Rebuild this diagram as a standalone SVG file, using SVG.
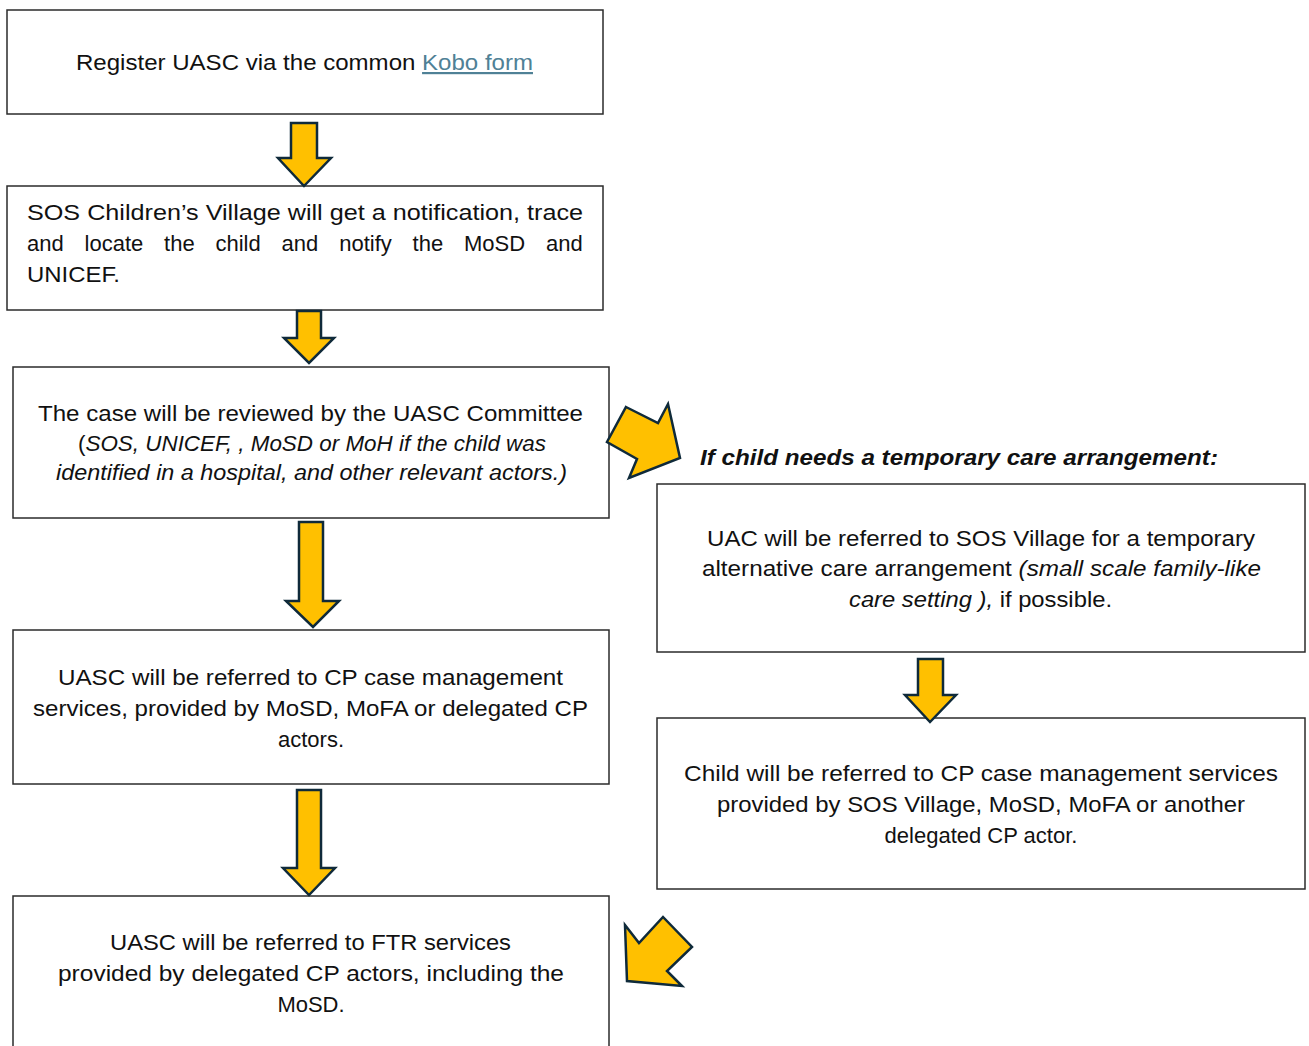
<svg xmlns="http://www.w3.org/2000/svg" width="1309" height="1046" viewBox="0 0 1309 1046">
<style>
.box{fill:#fff;stroke:#2b2b2b;stroke-width:1.5}
.arr{fill:#FFC000;stroke:#0f2a3a;stroke-width:2.5;stroke-linejoin:miter}
text{font-family:"Liberation Sans",Arial,sans-serif;font-size:22px;fill:#111}
.c{text-anchor:middle}
.i{font-style:italic}
.link{fill:#4f8196;text-decoration:underline}
.lbl{font-weight:bold;font-style:italic}
</style>
<rect width="1309" height="1046" fill="#fff"/>
<g id="n1">
<rect class="box" x="7" y="10" width="596" height="104"/>
<text x="76" y="70" textLength="457" lengthAdjust="spacingAndGlyphs">Register UASC via the common <tspan class="link">Kobo form</tspan></text>
</g>
<g id="n2">
<rect class="box" x="7" y="186" width="596" height="124"/>
<text x="27" y="220" textLength="556" lengthAdjust="spacingAndGlyphs">SOS Children’s Village will get a notification, trace</text>
<text y="251"><tspan x="27">and</tspan> <tspan x="84.6">locate</tspan> <tspan x="164.1">the</tspan> <tspan x="215.5">child</tspan> <tspan x="281.6">and</tspan> <tspan x="339.2">notify</tspan> <tspan x="412.6">the</tspan> <tspan x="464">MoSD</tspan> <tspan x="546">and</tspan></text>
<text x="27" y="282" textLength="93" lengthAdjust="spacingAndGlyphs">UNICEF.</text>
</g>
<g id="n3">
<rect class="box" x="13" y="367" width="596" height="151"/>
<text x="38" y="421" textLength="545" lengthAdjust="spacingAndGlyphs">The case will be reviewed by the UASC Committee</text>
<text x="78" y="451" textLength="468" lengthAdjust="spacingAndGlyphs">(<tspan class="i">SOS, UNICEF, , MoSD or MoH if the child was</tspan></text>
<text x="56" y="480" class="i" textLength="511" lengthAdjust="spacingAndGlyphs">identified in a hospital, and other relevant actors.)</text>
</g>
<g id="label">
<text x="700" y="465" class="lbl" textLength="518" lengthAdjust="spacingAndGlyphs">If child needs a temporary care arrangement:</text>
</g>
<g id="n6">
<rect class="box" x="657" y="484" width="648" height="168"/>
<text x="707" y="546" textLength="548" lengthAdjust="spacingAndGlyphs">UAC will be referred to SOS Village for a temporary</text>
<text x="702" y="576" textLength="559" lengthAdjust="spacingAndGlyphs">alternative care arrangement <tspan class="i">(small scale family-like</tspan></text>
<text x="849" y="607" textLength="263" lengthAdjust="spacingAndGlyphs"><tspan class="i">care setting ),</tspan> if possible.</text>
</g>
<g id="n4">
<rect class="box" x="13" y="630" width="596" height="154"/>
<text x="58" y="685" textLength="505" lengthAdjust="spacingAndGlyphs">UASC will be referred to CP case management</text>
<text x="33" y="716" textLength="555" lengthAdjust="spacingAndGlyphs">services, provided by MoSD, MoFA or delegated CP</text>
<text x="311" y="747" class="c">actors.</text>
</g>
<g id="n7">
<rect class="box" x="657" y="718" width="648" height="171"/>
<text x="684" y="781" textLength="594" lengthAdjust="spacingAndGlyphs">Child will be referred to CP case management services</text>
<text x="717" y="812" textLength="528" lengthAdjust="spacingAndGlyphs">provided by SOS Village, MoSD, MoFA or another</text>
<text x="981" y="843" class="c">delegated CP actor.</text>
</g>
<g id="n5">
<rect class="box" x="13" y="896" width="596" height="160"/>
<text x="110" y="950" textLength="401" lengthAdjust="spacingAndGlyphs">UASC will be referred to FTR services</text>
<text x="58" y="981" textLength="506" lengthAdjust="spacingAndGlyphs">provided by delegated CP actors, including the</text>
<text x="311" y="1012" class="c">MoSD.</text>
</g>
<g id="connectors">
<polygon class="arr" points="291,123 317,123 317,158 331,158 304,186 278,158 291,158"/>
<polygon class="arr" points="297,311 321,311 321,338 334,338 309,363 284,338 297,338"/>
<polygon class="arr" points="299,522 323,522 323,601 339,601 313,627 286,601 299,601"/>
<polygon class="arr" points="297,790 321,790 321,868 335,868 309,895 283,868 297,868"/>
<polygon class="arr" points="918,659 943,659 943,695 956,695 930,722 905,695 918,695"/>
<polygon class="arr" points="626,407 658,423 668,404 680,458 629,478 637,459 607,442"/>
<polygon class="arr" points="625,925 639,943 663,917 692,947 667,971 682,986 627,981"/>
</g>
</svg>
